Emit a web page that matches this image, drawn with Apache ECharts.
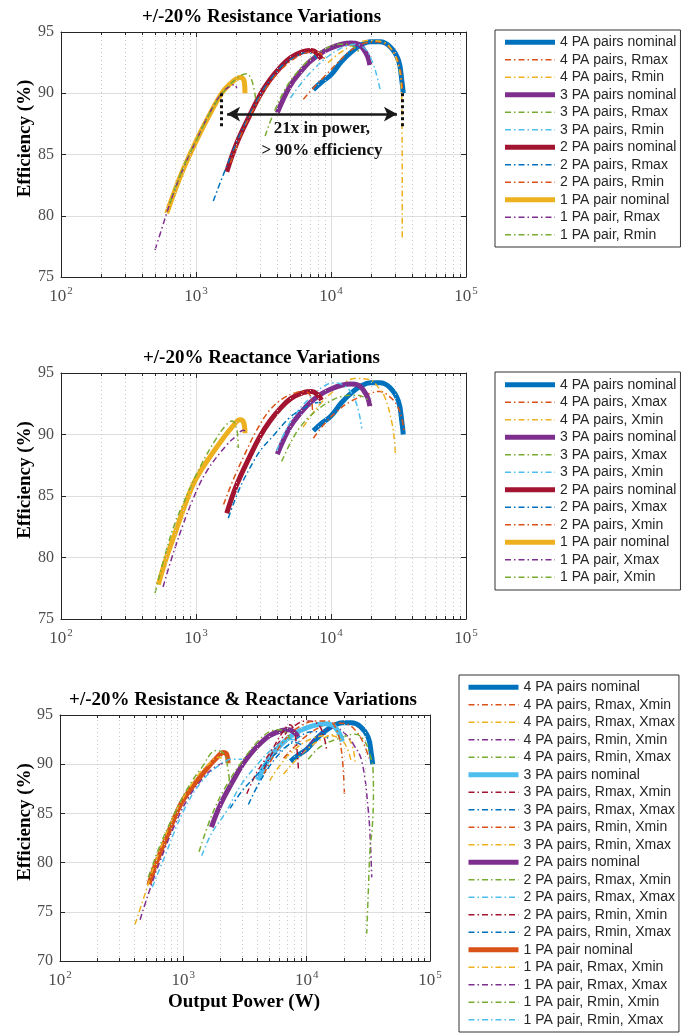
<!DOCTYPE html>
<html><head><meta charset="utf-8">
<script src="https://cdn.jsdelivr.net/npm/echarts@6/dist/echarts.min.js"></script>
<style>html,body{margin:0;padding:0;background:#fff}#c{width:697px;height:1034px}</style>
</head><body><div id="c"></div>
<script>
// ---------- tick values ----------
const xMajorTicks = [100, 1000, 10000, 100000];
const xMinorTicks = [200,300,400,500,600,700,800,900,2000,3000,4000,5000,6000,7000,8000,9000,20000,30000,40000,50000,60000,70000,80000,90000];
const yRange1 = [75, 95];
const yRange3 = [70, 95];

// ---------- shared nominal curves [power W, efficiency %] ----------
const nom4 = [[7400,90.3],[8500,90.9],[10000,91.5],[12000,92.6],[14600,93.5],[17000,94.0],[19500,94.2],[23000,94.2],[27400,93.8],[31600,92.7],[33500,91.0],[34300,90.0]];
const nom3 = [[4000,88.4],[4970,90.6],[6000,91.8],[7000,92.6],[8500,93.3],[10000,93.7],[12000,94.0],[14000,94.1],[16000,94.0],[17400,93.6],[18700,93.0],[19400,92.3]];
const nom2 = [[1690,83.6],[2000,85.9],[2500,88.2],[3000,89.9],[3530,91.1],[4200,92.1],[5000,92.9],[6200,93.4],[7200,93.5],[8000,93.2],[8500,92.8]];
const nom1a = [[607,80.2],[700,82.1],[805,83.8],[984,85.9],[1200,87.8],[1550,90.0],[1800,90.8],[2000,91.2],[2150,91.3],[2280,90.9],[2305,90.0]];
const nom1b = [[526,77.8],[600,79.9],[680,81.6],[800,83.8],[903,85.35],[1000,86.4],[1200,87.8],[1590,89.7],[1850,90.6],[2120,91.2],[2250,91.0],[2305,90.1]];

// ---------- panel 1: resistance variations ----------
const r4rmax = [[6240,89.5],[7500,90.5],[9000,91.4],[11000,92.4],[14000,93.5],[18000,94.1],[22000,94.2],[26000,93.9],[30000,93.1],[32500,92.0],[33800,90.4]];
const r4rmin = [[9500,92.5],[12000,93.4],[15000,94.0],[19000,94.3],[24000,94.2],[28000,93.6],[31500,92.3],[33200,90.5],[33600,87.0],[33700,82.0],[33700,78.2]];
const r3rmax = [[3250,86.5],[3700,88.2],[4500,90.2],[5500,91.6],[7000,92.8],[9000,93.6],[11500,94.0],[13500,94.0],[15000,93.7],[16400,93.3]];
const r3rmin = [[5000,89.6],[6000,90.8],[7500,92.0],[9500,93.0],[12000,93.7],[15000,94.0],[18000,93.6],[20500,92.4],[22000,91.3],[23100,90.3]];
const r2rmax = [[1343,81.2],[1600,83.4],[2000,86.0],[2500,88.3],[3000,89.9],[3600,91.2],[4500,92.4],[5500,93.0],[6500,93.3],[7300,93.2],[7800,92.8]];
const r2rmin = [[1800,84.3],[2200,86.8],[2700,88.8],[3300,90.4],[4000,91.6],[5000,92.6],[6200,93.2],[7500,93.4],[8500,93.2],[9000,92.7]];
const r1rmax = [[497,77.2],[560,79.0],[650,81.2],[800,83.8],[1000,86.1],[1250,88.3],[1550,90.0],[1800,90.6],[1950,90.7],[2000,90.4]];
const r1rmin = [[640,81.0],[800,83.9],[1000,86.1],[1300,88.6],[1600,90.1],[2000,91.2],[2350,91.6],[2600,91.0],[2780,89.3]];
// annotation (power W, efficiency %)
const arrowSpan = [1700, 30800];
const arrowLevel = 88.3;
const markerPowers = [1530, 34000];
const markerEff = [90, 87.2];
const noteAt = [8570, 86.2];

// ---------- panel 2: reactance variations ----------
const x4xmax = [[7400,89.7],[9000,90.9],[11000,91.85],[14000,92.7],[19500,93.35],[23000,93.5],[27000,93.1],[30700,92.4],[33500,91.3],[34800,90.2]];
const x4xmin = [[6200,90.6],[7190,91.6],[8500,92.6],[10000,93.35],[12500,94.2],[15000,94.55],[19500,94.45],[22500,93.8],[25100,93.0],[28200,91.0],[29500,89.5],[30000,88.3]];
const x3xmax = [[4310,87.8],[5000,89.3],[6000,90.7],[7500,91.8],[9500,92.6],[12000,93.1],[14500,93.2],[17000,93.1],[19400,92.7]];
const x3xmin = [[3960,88.7],[4600,90.3],[5500,91.7],[7000,93.0],[8500,93.8],[10400,94.2],[12500,94.0],[14500,93.2],[16000,91.9],[16900,90.5]];
const x2xmax = [[1734,83.2],[2100,85.6],[2515,87.3],[3000,88.7],[3740,89.9],[4970,91.4],[6000,92.0],[7000,92.4],[8000,92.6],[8750,92.6]];
const x2xmin = [[1600,84.3],[1900,86.4],[2300,88.4],[2800,90.3],[3530,92.0],[4500,93.0],[5500,93.4],[6300,93.5],[7000,93.2],[7300,91.8]];
const x1xmax = [[570,77.6],[700,80.8],[930,84.5],[1200,87.0],[1690,89.15],[2000,89.9],[2240,90.35],[2370,90.2]];
const x1xmin = [[497,77.1],[600,80.5],[700,82.8],[877,85.3],[1100,87.6],[1400,89.6],[1650,90.7],[1850,91.1],[2000,90.5],[2055,88.9]];

// ---------- panel 3: resistance & reactance variations ----------
const c4RmaxXmin = [[6500,90.6],[8000,91.8],[10000,92.9],[13000,93.8],[17000,94.2],[21000,94.1],[25000,93.4],[29000,92.1],[32000,90.6]];
const c4RmaxXmax = [[6500,89.0],[8000,90.3],[10000,91.5],[13000,92.5],[17000,93.0],[21000,92.8],[23500,91.8],[24700,90.2]];
const c4RminXmin = [[9000,91.0],[11000,92.3],[14000,93.4],[17000,93.7],[20500,93.1],[24000,92.0],[28000,90.3],[31600,85.3],[33000,81.5],[33700,78.5]];
const c4RminXmax = [[10300,90.5],[13000,91.8],[18100,92.6],[24700,93.05],[29000,92.5],[32500,91.0],[34500,89.5],[34780,87.0],[34000,83.5],[32700,81.5],[31600,77.0],[30700,72.8]];
const c3RmaxXmin = [[4500,89.5],[6000,92.3],[8000,93.9],[10000,94.4],[12000,94.2],[13500,93.2],[14500,91.5]];
const c3RmaxXmax = [[3370,85.9],[4000,87.8],[5000,89.8],[6500,91.5],[8500,92.7],[11000,93.3],[13500,93.2],[15000,92.5]];
const c3RminXmin = [[4500,89.0],[5500,91.0],[7000,92.8],[9000,93.9],[12000,94.4],[15000,94.4],[17500,93.5],[19300,91.0],[20240,87.0]];
const c3RminXmax = [[5000,88.3],[6000,89.8],[8000,91.5],[11000,92.6],[15000,92.9],[19000,92.5],[21500,91.5],[23000,90.2]];
const c2RmaxXmin = [[1340,81.1],[1700,84.8],[2200,87.7],[3000,90.3],[4000,92.3],[5000,93.3],[6000,93.5],[6800,93.2],[7300,92.5]];
const c2RmaxXmax = [[1410,80.7],[1700,83.0],[2180,85.0],[2970,88.0],[4000,90.0],[5000,91.3],[6500,92.3],[8000,92.5],[9000,92.0]];
const c2RminXmin = [[3270,87.0],[4000,89.3],[5200,91.4],[6200,93.0],[7300,94.0],[8000,93.2],[8570,89.5]];
const c2RminXmax = [[2390,85.5],[3000,87.3],[4000,89.0],[5000,90.5],[6500,91.6],[8000,92.2],[9000,92.0]];
const c1RmaxXmin = [[405,73.7],[480,76.5],[600,80.2],[800,84.2],[1000,86.6],[1300,88.8],[1600,90.0],[1900,90.7],[2050,90.6]];
const c1RmaxXmax = [[446,74.2],[520,76.8],[650,80.2],[850,83.8],[1100,86.6],[1450,88.6],[1800,89.7],[2090,90.1]];
const c1RminXmin = [[520,78.5],[650,81.8],[850,85.0],[1100,87.7],[1400,89.6],[1860,91.4],[2150,91.0],[2300,89.5],[2390,87.7]];
const c1RminXmax = [[560,77.5],[700,80.5],[1000,85.2],[1400,88.2],[2000,90.0],[2500,90.5],[3000,90.5]];

// ---------- styling ----------
const COL = {blue:'#0072BD', orange:'#D95319', yellow:'#EDB120', purple:'#7E2F8E', green:'#77AC30', cyan:'#4DBEEE', red:'#A2142F'};
const DASHDOT = [6,3,1.5,3];
const SERIF = '"Liberation Serif","Times New Roman",serif';
const SANS = '"Liberation Sans",Arial,sans-serif';

const panels = [
  { titleText:'+/-20% Resistance Variations', grid:{left:61, top:32, width:405, height:245}, yr:yRange1,
    legendBox:{left:495, top:30, pad:[3.5,4,3.5,7.5]},
    series:[
      ['4 PA pairs nominal', nom4, 'blue', 1], ['4 PA pairs, Rmax', r4rmax, 'orange'], ['4 PA pairs, Rmin', r4rmin, 'yellow'],
      ['3 PA pairs nominal', nom3, 'purple', 1], ['3 PA pairs, Rmax', r3rmax, 'green'], ['3 PA pairs, Rmin', r3rmin, 'cyan'],
      ['2 PA pairs nominal', nom2, 'red', 1], ['2 PA pairs, Rmax', r2rmax, 'blue'], ['2 PA pairs, Rmin', r2rmin, 'orange'],
      ['1 PA pair nominal', nom1a, 'yellow', 1], ['1 PA pair, Rmax', r1rmax, 'purple'], ['1 PA pair, Rmin', r1rmin, 'green']
    ]},
  { titleText:'+/-20% Reactance Variations', grid:{left:61, top:373, width:405, height:246}, yr:yRange1,
    legendBox:{left:495, top:372, pad:[4,4,4,7.5]},
    series:[
      ['4 PA pairs nominal', nom4, 'blue', 1], ['4 PA pairs, Xmax', x4xmax, 'orange'], ['4 PA pairs, Xmin', x4xmin, 'yellow'],
      ['3 PA pairs nominal', nom3, 'purple', 1], ['3 PA pairs, Xmax', x3xmax, 'green'], ['3 PA pairs, Xmin', x3xmin, 'cyan'],
      ['2 PA pairs nominal', nom2, 'red', 1], ['2 PA pairs, Xmax', x2xmax, 'blue'], ['2 PA pairs, Xmin', x2xmin, 'orange'],
      ['1 PA pair nominal', nom1b, 'yellow', 1], ['1 PA pair, Xmax', x1xmax, 'purple'], ['1 PA pair, Xmin', x1xmin, 'green']
    ]},
  { titleText:'+/-20% Resistance & Reactance Variations', grid:{left:60, top:715, width:370, height:246}, yr:yRange3,
    legendBox:{left:459, top:675, pad:[3.5,4,3.5,7]},
    series:[
      ['4 PA pairs nominal', nom4, 'blue', 1], ['4 PA pairs, Rmax, Xmin', c4RmaxXmin, 'orange'], ['4 PA pairs, Rmax, Xmax', c4RmaxXmax, 'yellow'],
      ['4 PA pairs, Rmin, Xmin', c4RminXmin, 'purple'], ['4 PA pairs, Rmin, Xmax', c4RminXmax, 'green'],
      ['3 PA pairs nominal', nom3, 'cyan', 1], ['3 PA pairs, Rmax, Xmin', c3RmaxXmin, 'red'], ['3 PA pairs, Rmax, Xmax', c3RmaxXmax, 'blue'],
      ['3 PA pairs, Rmin, Xmin', c3RminXmin, 'orange'], ['3 PA pairs, Rmin, Xmax', c3RminXmax, 'yellow'],
      ['2 PA pairs nominal', nom2, 'purple', 1], ['2 PA pairs, Rmax, Xmin', c2RmaxXmin, 'green'], ['2 PA pairs, Rmax, Xmax', c2RmaxXmax, 'cyan'],
      ['2 PA pairs, Rmin, Xmin', c2RminXmin, 'red'], ['2 PA pairs, Rmin, Xmax', c2RminXmax, 'blue'],
      ['1 PA pair nominal', nom1b, 'orange', 1], ['1 PA pair, Rmax, Xmin', c1RmaxXmin, 'yellow'], ['1 PA pair, Rmax, Xmax', c1RmaxXmax, 'purple'],
      ['1 PA pair, Rmin, Xmin', c1RminXmin, 'green'], ['1 PA pair, Rmin, Xmax', c1RminXmax, 'cyan']
    ]}
];

const AXC = '#262626', TICKC = '#4d4d4d';
const option = {animation:false, backgroundColor:'#fff', grid:[], xAxis:[], yAxis:[], series:[], legend:[], graphic:[]};

panels.forEach((p, i) => {
  option.grid.push(Object.assign({containLabel:false}, p.grid));
  const xb = {type:'log', logBase:10, gridIndex:i, min:xMajorTicks[0], max:xMajorTicks[xMajorTicks.length-1], splitNumber:3,
    axisLine:{show:true, lineStyle:{color:AXC, width:1}}, axisTick:{show:true, inside:true, length:5, lineStyle:{color:AXC}},
    splitLine:{show:true, lineStyle:{color:'#dedede', width:1}},
    axisLabel:{show:true, margin:9, formatter:v => '{b|10}{s|' + Math.round(Math.log10(v)) + '}',
      rich:{b:{fontFamily:SERIF, fontSize:17, color:TICKC, lineHeight:22}, s:{fontFamily:SERIF, fontSize:11, color:TICKC, verticalAlign:'top', padding:[0,0,0,1]}}}};
  const xt = {type:'log', logBase:10, gridIndex:i, position:'top', min:xb.min, max:xb.max, splitNumber:3,
    axisLine:{show:true, lineStyle:{color:AXC}}, axisTick:{show:true, inside:true, length:5, lineStyle:{color:AXC}}, axisLabel:{show:false}, splitLine:{show:false}};
  const yl = {type:'value', gridIndex:i, min:p.yr[0], max:p.yr[1], interval:5,
    axisLine:{show:true, lineStyle:{color:AXC}}, axisTick:{show:true, inside:true, length:5, lineStyle:{color:AXC}},
    splitLine:{show:true, lineStyle:{color:'#dedede', width:1}},
    axisLabel:{fontFamily:SERIF, fontSize:16, color:TICKC, margin:7}};
  const yr = {type:'value', gridIndex:i, position:'right', min:p.yr[0], max:p.yr[1], interval:5,
    axisLine:{show:true, lineStyle:{color:AXC}}, axisTick:{show:true, inside:true, length:5, lineStyle:{color:AXC}}, axisLabel:{show:false}, splitLine:{show:false}};
  option.xAxis.push(xb, xt);
  option.yAxis.push(yl, yr);
  const xi = 2*i, yi = 2*i;
  // minor dotted grid through the axis scale
  option.series.push({type:'line', name:'grid'+i, xAxisIndex:xi, yAxisIndex:yi, data:[], silent:true, z:1,
    markLine:{silent:true, symbol:'none', animation:false, label:{show:false},
      lineStyle:{color:'#c4c4c4', type:[1,3], width:1}, data:xMinorTicks.map(v => ({xAxis:v}))}});
  // minor ticks (inside) on bottom and top axes
  const tl = (p.yr[1] - p.yr[0]) * 3 / p.grid.height;
  const tickPairs = [];
  xMinorTicks.forEach(v => {
    tickPairs.push([{coord:[v, p.yr[0]]}, {coord:[v, p.yr[0] + tl]}]);
    tickPairs.push([{coord:[v, p.yr[1]]}, {coord:[v, p.yr[1] - tl]}]);
  });
  option.series.push({type:'line', name:'mtick'+i, xAxisIndex:xi, yAxisIndex:yi, data:[], silent:true, z:6,
    markLine:{silent:true, symbol:'none', animation:false, label:{show:false},
      lineStyle:{color:AXC, type:'solid', width:1}, data:tickPairs}});
  const legendData = [];
  p.series.forEach(s => {
    const [name, data, col, nominal] = s;
    const uname = 'p' + (i+1) + '|' + name;
    option.series.push({type:'line', name:uname, xAxisIndex:xi, yAxisIndex:yi, data:data, symbol:'none', smooth:0.4,
      clip:true, silent:true, z:2,
      lineStyle:{color:COL[col], width: nominal ? 5 : 1.5, type: nominal ? 'solid' : DASHDOT, cap:'butt'},
      itemStyle:{color:COL[col]}});
    legendData.push({name:uname, lineStyle:{width: nominal ? 5 : 1.5},
      itemStyle:{opacity:0, color:'rgba(0,0,0,0)', borderWidth:0}});
  });
  option.legend.push({data:legendData, orient:'vertical', left:p.legendBox.left, top:p.legendBox.top,
    padding:p.legendBox.pad, itemGap:0, itemWidth:50, itemHeight:10, selectedMode:false,
    borderColor:'#333', borderWidth:1, backgroundColor:'#fff',
    itemStyle:{opacity:0, color:'rgba(0,0,0,0)', borderWidth:0},
    textStyle:{fontFamily:SANS, fontSize:14, color:'#262626', lineHeight:17.5},
    formatter: n => n.split('|')[1]});
  // title
  option.graphic.push({type:'text', x:p.grid.left + p.grid.width/2 - 2, y:p.grid.top - 15,
    style:{text:p.titleText, font:'bold 19px ' + SERIF, fill:'#000', textAlign:'center', textVerticalAlign:'middle'}});
  // y axis name
  option.graphic.push({type:'text', x:25, y:p.grid.top + p.grid.height/2 - 16, rotation:Math.PI/2,
    style:{text:'Efficiency (%)', font:'bold 19px ' + SERIF, fill:'#000', textAlign:'center', textVerticalAlign:'middle'}});
});

// x axis name for bottom panel
option.graphic.push({type:'text', x:244, y:1002,
  style:{text:'Output Power (W)', font:'bold 19px ' + SERIF, fill:'#000', textAlign:'center', textVerticalAlign:'middle'}});

// annotation in panel 1
option.series.push({type:'line', name:'annot', xAxisIndex:0, yAxisIndex:0, data:[], silent:true, z:5,
  markLine:{silent:true, animation:false, label:{show:false}, symbol:'none',
    data:[
      [{coord:[arrowSpan[0], arrowLevel], symbol:'arrow', symbolSize:[11,13]}, {coord:[arrowSpan[1], arrowLevel], symbol:'arrow', symbolSize:[11,13], lineStyle:{color:'#1a1a1a', width:2.5, type:'solid'}}],
      [{coord:[markerPowers[0], markerEff[0]]}, {coord:[markerPowers[0], markerEff[1]], lineStyle:{color:'#111', width:3, type:[3,3]}}],
      [{coord:[markerPowers[1], markerEff[0]]}, {coord:[markerPowers[1], markerEff[1]], lineStyle:{color:'#111', width:3, type:[3,3]}}]
    ],
    lineStyle:{color:'#1a1a1a', width:2.5}},
  markPoint:{silent:true, animation:false, symbol:'rect', symbolSize:1, itemStyle:{color:'rgba(0,0,0,0)'},
    data:[{coord:noteAt, label:{show:true, position:'inside', formatter:'21x in power,\n> 90% efficiency',
      fontFamily:SERIF, fontWeight:'bold', fontSize:17, color:'#111', lineHeight:21.5, align:'center'}}]}
});

const chart = echarts.init(document.getElementById('c'), null, {renderer:'canvas'});
chart.setOption(option);
</script></body></html>
